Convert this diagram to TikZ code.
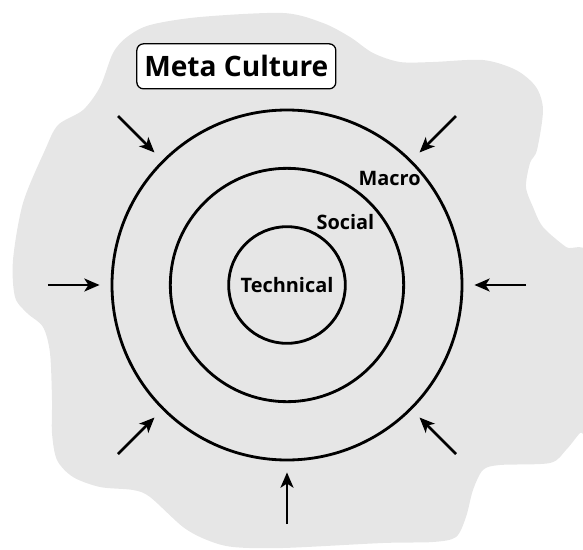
\documentclass[tikz,border=0pt]{standalone}
\usepackage{fontspec}
\setmainfont{Open Sans}
\usetikzlibrary{arrows.meta, positioning}
\definecolor{metagray}{RGB}{230,230,230}

\begin{document}
\begin{tikzpicture}[
    ring/.style={circle, draw, line width=2.4pt, inner sep=0pt},
    layer/.style={font=\fontsize{17}{20}\selectfont\bfseries},
    titlebox/.style={draw, fill=white, rounded corners=0.2cm, line width=1.1pt,
        minimum width=5.97cm, minimum height=1.35cm, font=\fontsize{24}{28}\selectfont\bfseries},
    push/.style={-{Stealth[length=13pt, width=11pt, inset=3.5pt]}, line width=2.3pt, shorten >=0.33cm}
]
    \clip (-8.61,-7.92) rectangle (8.88,8.55);
    % background cloud
    \fill[metagray] plot[smooth cycle] coordinates {
        (-0.12,8.16) (1.08,7.86) (1.89,7.44) (2.58,6.96) (3.39,6.69) (4.38,6.69)
        (5.88,6.75) (6.87,6.45) (7.47,5.94) (7.68,5.25) (7.50,4.05) (7.29,3.66)
        (7.17,2.94) (7.38,2.34) (7.68,1.74) (8.37,1.14) (9.09,0.69) (9.09,-4.20)
        (8.79,-4.44) (8.37,-4.95) (7.89,-5.34) (6.39,-5.40) (5.88,-5.55) (5.58,-6.15)
        (5.37,-6.96) (5.07,-7.56) (4.38,-7.71) (2.88,-7.74) (-0.12,-7.89) (-1.62,-7.86)
        (-2.40,-7.65) (-3.12,-7.26) (-4.11,-6.36) (-4.62,-6.15) (-5.61,-6.06) (-6.42,-5.76)
        (-6.90,-5.25) (-7.05,-4.44) (-7.05,-3.45) (-7.11,-2.04) (-7.32,-1.26) (-7.80,-0.84)
        (-8.16,-0.36) (-8.22,0.75) (-7.92,2.46) (-7.26,4.05) (-6.87,4.80) (-6.12,5.25)
        (-5.61,5.94) (-5.22,6.96) (-4.80,7.44) (-4.11,7.80) (-2.61,8.04)};
    % layers
    \node[ring, minimum size=10.5cm] (macro) at (0,0) {};
    \node[ring, minimum size=7cm] (social) at (0,0) {};
    \node[ring, minimum size=3.5cm, layer] (technical) at (0,0) {Technical};
    \node[layer] (sociallabel) at (47:2.57) {Social};
    \node[layer] (macrolabel) at (46:4.43) {Macro};
    \node[titlebox] (meta) at (-1.52,6.56) {Meta Culture};
    % outside pressure
    \foreach \a in {0,45,135,180,225,270,315} {
        \coordinate (s\a) at (\a:7.17);
        \draw[push] (s\a) -- (macro);
    }
\end{tikzpicture}
\end{document}
